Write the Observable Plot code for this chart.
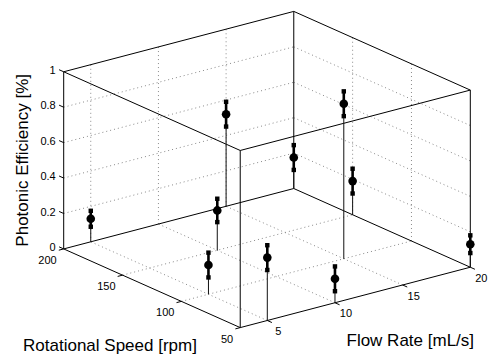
<!DOCTYPE html>
<html>
<head>
<meta charset="utf-8">
<script src="https://cdn.jsdelivr.net/npm/d3@7"></script>
<script src="https://cdn.jsdelivr.net/npm/@observablehq/plot@0.6"></script>
<style>
  html, body { margin: 0; padding: 0; background: #fff; }
  #chart svg { display: block; }
</style>
</head>
<body>
<div id="chart"></div>
<script>
// Measured photonic efficiency for each (flow rate, rotational speed) setting
const flowRate   = [5, 10, 15, 20, 15, 20, 5, 5, 10, 20];            // mL/s
const rotSpeed   = [200, 150, 200, 200, 100, 150, 100, 50, 50, 50];  // rpm
const efficiency = [0.13, 0.225, 0.52, 0.175, 0.875, 0.19, 0.165, 0.355, 0.135, 0.13];
const errHalf    = [0.045, 0.066, 0.07, 0.07, 0.07, 0.07, 0.07, 0.07, 0.07, 0.05];

// Axis limits and ticks
const flowLim  = [3, 20];
const speedLim = [50, 200];
const effLim   = [0, 1];
const flowTicks  = [5, 10, 15, 20];
const speedTicks = [50, 100, 150, 200];
const effTicks   = [0, 0.2, 0.4, 0.6, 0.8, 1];
const effTickLabels = ["0", "0.2", "0.4", "0.6", "0.8", "1"];

// Axis titles
const xTitle = "Flow Rate [mL/s]";
const yTitle = "Rotational Speed [rpm]";
const zTitle = "Photonic Efficiency [%]";

// ---- orthographic 3-D view (azimuth / elevation) ----
const W = 491, H = 358;
const az = -37.5 * Math.PI / 180, el = 20 * Math.PI / 180;
const S = 290, zAspect = 0.65, cx = 266.5, cy = 169;
const nx = d3.scaleLinear(flowLim, [-0.5, 0.5]);
const ny = d3.scaleLinear(speedLim, [-0.5, 0.5]);
const nz = d3.scaleLinear(effLim, [-0.5 * zAspect, 0.5 * zAspect]);
function proj(f, r, e) {
  const u = nx(f), v = ny(r), w = nz(e);
  const X = cx + S * (u * Math.cos(az) + v * Math.sin(az));
  const depth = -u * Math.sin(az) + v * Math.cos(az);
  const Y = cy - S * (depth * Math.sin(el) + w * Math.cos(el));
  return [X, Y];
}
function seg(a, b) {
  const [x1, y1] = proj(...a), [x2, y2] = proj(...b);
  return {x1, y1, x2, y2};
}
function pt(f, r, e, extra = {}) {
  const [x, y] = proj(f, r, e);
  return {x, y, ...extra};
}

const [f0, f1] = flowLim, [r0, r1] = speedLim, [z0, z1] = effLim;
const inner = (ticks, lim) => ticks.filter(t => t > lim[0] && t < lim[1]);

// dotted grid on the floor and the two back walls
const grid = [];
for (const f of inner(flowTicks, flowLim)) {
  grid.push(seg([f, r0, z0], [f, r1, z0]));
  grid.push(seg([f, r1, z0], [f, r1, z1]));
}
for (const r of inner(speedTicks, speedLim)) {
  grid.push(seg([f0, r, z0], [f1, r, z0]));
  grid.push(seg([f1, r, z0], [f1, r, z1]));
}
for (const z of inner(effTicks, effLim)) {
  grid.push(seg([f0, r1, z], [f1, r1, z]));
  grid.push(seg([f1, r1, z], [f1, r0, z]));
}

// plot box: 12 edges
const box = [];
for (const r of speedLim) for (const z of effLim) box.push(seg([f0, r, z], [f1, r, z]));
for (const f of flowLim) for (const z of effLim) box.push(seg([f, r0, z], [f, r1, z]));
for (const f of flowLim) for (const r of speedLim) box.push(seg([f, r, z0], [f, r, z1]));

// tick marks
const tickMarks = [
  ...effTicks.map(z => seg([f0, r1, z], [f0, r1 + 3.9, z])),
  ...speedTicks.map(r => seg([f0, r, z0], [f0 - 0.36, r, z0])),
  ...flowTicks.map(f => seg([f, r0, z0], [f, r0 - 3.9, z0]))
];

// stems, error bars, caps and markers
const idx = d3.range(efficiency.length);
const stems = idx.map(i => seg([flowRate[i], rotSpeed[i], 0], [flowRate[i], rotSpeed[i], efficiency[i]]));
const bars = idx.map(i => seg([flowRate[i], rotSpeed[i], efficiency[i] - errHalf[i]],
                             [flowRate[i], rotSpeed[i], efficiency[i] + errHalf[i]]));
const caps = idx.flatMap(i => [
  pt(flowRate[i], rotSpeed[i], efficiency[i] - errHalf[i]),
  pt(flowRate[i], rotSpeed[i], efficiency[i] + errHalf[i])
]);
const markers = idx.map(i => pt(flowRate[i], rotSpeed[i], efficiency[i]));

// tick labels
const zLabels = effTicks.map((z, i) => pt(f0, r1, z, {text: effTickLabels[i]}));
const yLabels = speedTicks.map(r => pt(f0, r, z0, {text: String(r)}));
const xLabels = flowTicks.map(f => pt(f, r0, z0, {text: String(f)}));

const linkOpts = {x1: "x1", y1: "y1", x2: "x2", y2: "y2"};
const font = "'Liberation Sans', Arial, Helvetica, sans-serif";

const chart = Plot.plot({
  width: W,
  height: H,
  margin: 0,
  x: {type: "identity", axis: null},
  y: {type: "identity", axis: null},
  style: {fontFamily: font, background: "#fff"},
  marks: [
    Plot.link(grid, {...linkOpts, stroke: "#8a8a8a", strokeWidth: 1, strokeDasharray: "1 3"}),
    Plot.link(box, {...linkOpts, stroke: "#000", strokeWidth: 1}),
    Plot.link(tickMarks, {...linkOpts, stroke: "#000", strokeWidth: 1}),
    Plot.link(stems, {...linkOpts, stroke: "#111", strokeWidth: 1}),
    Plot.link(bars, {...linkOpts, stroke: "#000", strokeWidth: 2.6}),
    Plot.dot(caps, {x: "x", y: "y", symbol: "square", r: 2.5, fill: "#000"}),
    Plot.dot(markers, {x: "x", y: "y", r: 4.3, fill: "#000"}),
    Plot.text(zLabels, {x: "x", y: "y", text: "text", textAnchor: "end", dx: -8, dy: -1.5, fontSize: 11, fill: "#000"}),
    Plot.text(yLabels, {x: "x", y: "y", text: "text", textAnchor: "end", dx: -7, dy: 11.5, fontSize: 11, fill: "#000"}),
    Plot.text(xLabels, {x: "x", y: "y", text: "text", textAnchor: "middle", dx: 11, dy: 11, fontSize: 11, fill: "#000"}),
    Plot.text([pt(f0, r1, 0.5, {text: zTitle})], {x: "x", y: "y", text: "text", rotate: -90, dx: -41, fontSize: 17, fill: "#000"}),
    Plot.text([pt(f0, (r0 + r1) / 2, z0, {text: yTitle})], {x: "x", y: "y", text: "text", dx: -42, dy: 57, fontSize: 17, fill: "#000"}),
    Plot.text([pt((f0 + f1) / 2, r0, z0, {text: xTitle})], {x: "x", y: "y", text: "text", dx: 55, dy: 43, fontSize: 17, fill: "#000"})
  ]
});
document.getElementById("chart").appendChild(chart);
</script>
</body>
</html>
